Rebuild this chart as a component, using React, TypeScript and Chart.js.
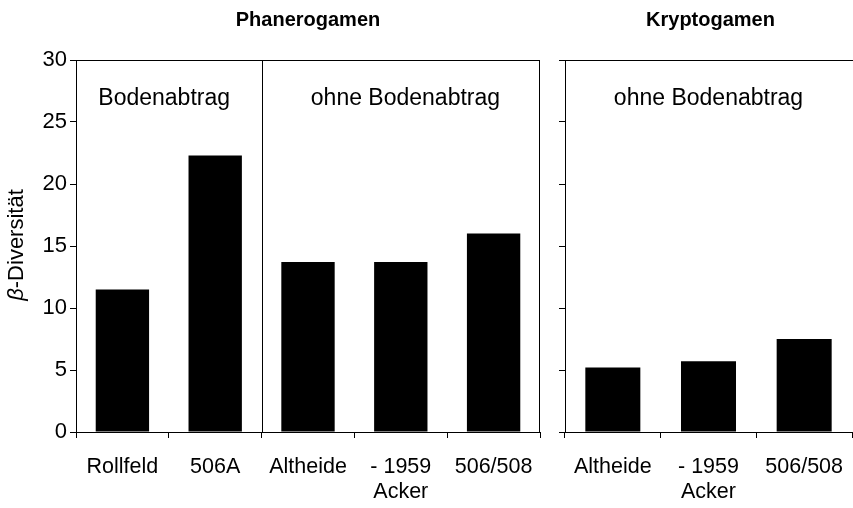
import React, { useEffect, useRef } from "react";
import { Chart, registerables } from "chart.js";
Chart.register(...registerables);

const FONT = "'Liberation Sans', Arial, Helvetica, sans-serif";

const phanLabels: string[][] = [["Rollfeld"], ["506A"], ["Altheide"], ["- 1959", "Acker"], ["506/508"]];
const phanValues: number[] = [11.5, 22.3, 13.7, 13.7, 16.0];
const kryptLabels: string[][] = [["Altheide"], ["- 1959", "Acker"], ["506/508"]];
const kryptValues: number[] = [5.2, 5.7, 7.5];
const yMin = 0;
const yMax = 30;
const yStep = 5;

const titleLeft = "Phanerogamen";
const titleRight = "Kryptogamen";
const groupA = "Bodenabtrag";
const groupB = "ohne Bodenabtrag";
const yTitleGreek = "β";
const yTitleRest = "-Diversität";

function baseOptions(showYLabels: boolean, yWidth: number, padRight: number) {
  return {
    responsive: false,
    animation: false as const,
    layout: { padding: { left: 0, right: padRight, top: 60, bottom: 0 } },
    plugins: { legend: { display: false }, tooltip: { enabled: false }, title: { display: false } },
    scales: {
      x: {
        type: "category" as const,
        grid: { offset: true, drawOnChartArea: false, tickLength: 6, color: "#000", lineWidth: 1 },
        border: { color: "#000", width: 1 },
        ticks: { color: "#000", font: { family: FONT, size: 21.5, lineHeight: 1.15 }, padding: 17, maxRotation: 0, autoSkip: false },
        afterFit: (s: any) => {
          s.height = 76;
          s.paddingLeft = 0;
          s.paddingRight = 0;
        },
      },
      y: {
        min: yMin,
        max: yMax,
        grid: { drawOnChartArea: false, tickLength: 6, color: "#000", lineWidth: 1 },
        border: { color: "#000", width: 1 },
        ticks: {
          stepSize: yStep,
          color: showYLabels ? "#000" : "rgba(0,0,0,0)",
          font: { family: FONT, size: 22 },
          padding: 3,
        },
        afterFit: (s: any) => {
          s.width = yWidth;
          s.paddingTop = 0;
          s.paddingBottom = 0;
        },
      },
    },
  };
}

function makeFramePlugin(opts: { left: boolean }) {
  return {
    id: "frame" + (opts.left ? "L" : "R"),
    afterDraw(chart: any) {
      const ctx = chart.ctx as CanvasRenderingContext2D;
      const ca = chart.chartArea;
      const xs = chart.scales.x;
      const ys = chart.scales.y;
      ctx.save();
      ctx.strokeStyle = "#000";
      ctx.lineWidth = 1;
      ctx.beginPath();
      ctx.moveTo(ca.left, Math.round(ca.top) + 0.5);
      ctx.lineTo(opts.left ? ca.right : chart.width, Math.round(ca.top) + 0.5);
      if (opts.left) {
        ctx.moveTo(Math.round(ca.right) - 0.5, ca.top);
        ctx.lineTo(Math.round(ca.right) - 0.5, ca.bottom);
        const dx = Math.round(xs.getPixelForValue(1.5)) + 0.5;
        ctx.moveTo(dx, ca.top);
        ctx.lineTo(dx, ca.bottom);
      }
      ctx.stroke();

      ctx.fillStyle = "#000";
      ctx.textAlign = "center";
      ctx.textBaseline = "middle";
      ctx.font = `23px ${FONT}`;
      const ty = ys.getPixelForValue(26.9);
      const tcx = (ca.left + ca.right) / 2;
      if (opts.left) {
        ctx.fillText(groupA, xs.getPixelForValue(0.45), ty);
        ctx.fillText(groupB, xs.getPixelForValue(3.05), ty);
        ctx.font = `bold 20px ${FONT}`;
        ctx.fillText(titleLeft, tcx, 20);
        // y title
        ctx.save();
        ctx.translate(17, 245);
        ctx.rotate(-Math.PI / 2);
        ctx.font = `italic 22px ${FONT}`;
        const wg = ctx.measureText(yTitleGreek).width;
        ctx.font = `22px ${FONT}`;
        const wr = ctx.measureText(yTitleRest).width;
        const start = -(wg + wr) / 2;
        ctx.textAlign = "left";
        ctx.font = `italic 22px ${FONT}`;
        ctx.fillText(yTitleGreek, start, 0);
        ctx.font = `22px ${FONT}`;
        ctx.fillText(yTitleRest, start + wg, 0);
        ctx.restore();
      } else {
        ctx.fillText(groupB, xs.getPixelForValue(1), ty);
        ctx.font = `bold 20px ${FONT}`;
        ctx.fillText(titleRight, tcx + 2, 20);
      }
      ctx.restore();
    },
  };
}

function BarPanel(props: { labels: string[][]; values: number[]; left: boolean; width: number; yWidth: number; padRight: number }) {
  const ref = useRef<HTMLCanvasElement | null>(null);
  useEffect(() => {
    if (!ref.current) return;
    const chart = new Chart(ref.current, {
      type: "bar",
      data: {
        labels: props.labels as any,
        datasets: [
          {
            data: props.values,
            backgroundColor: "#000",
            borderWidth: 0,
            categoryPercentage: 1,
            barPercentage: 0.575,
          },
        ],
      },
      options: baseOptions(props.left, props.yWidth, props.padRight) as any,
      plugins: [makeFramePlugin({ left: props.left })],
    });
    return () => chart.destroy();
  }, []);
  return (
    <canvas
      ref={ref}
      width={props.width}
      height={508}
      style={{ width: props.width, height: 508, display: "block" }}
    />
  );
}

export default function App() {
  return (
    <div style={{ position: "fixed", left: 0, top: 0, width: 853, height: 508, background: "#fff", display: "flex" }}>
      <BarPanel labels={phanLabels} values={phanValues} left={true} width={545} yWidth={76} padRight={5} />
      <BarPanel labels={kryptLabels} values={kryptValues} left={false} width={308} yWidth={20} padRight={1} />
    </div>
  );
}
